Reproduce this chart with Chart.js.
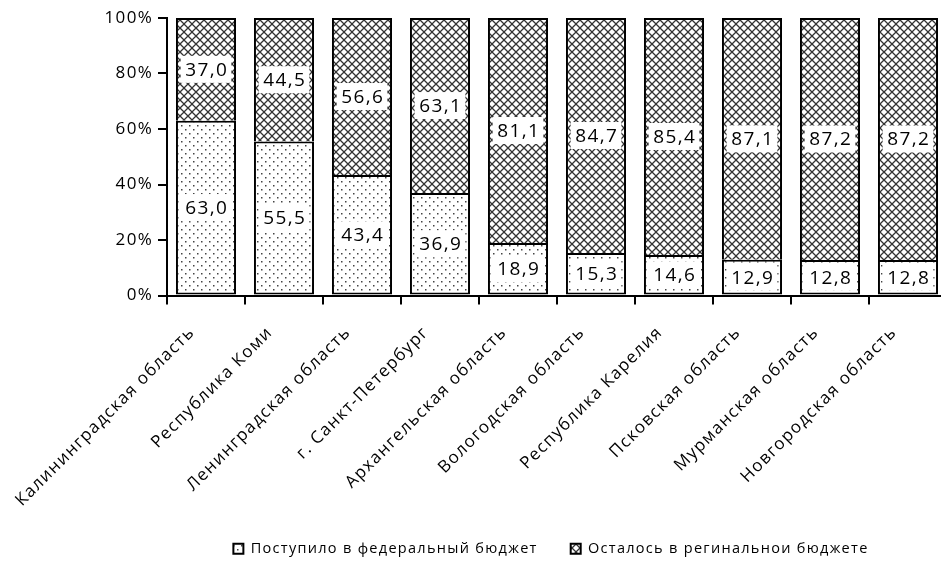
<!DOCTYPE html>
<html><head><meta charset="utf-8">
<script src="https://cdn.jsdelivr.net/npm/chart.js@4.4.1/dist/chart.umd.min.js"></script>
<style>html,body{margin:0;padding:0;background:#fff;overflow:hidden;width:941px;height:574px}#wrap{position:absolute;left:0;top:0;width:1102px;height:574px}</style>
</head><body><div id="wrap"><canvas id="c" width="1102" height="574"></canvas></div>
<script>
const categories = ["Калининградская область","Республика Коми","Ленинградская область","г. Санкт-Петербург","Архангельская область","Вологодская область","Республика Карелия","Псковская область","Мурманская область","Новгородская область"];
const federalValues = [63.0,55.5,43.4,36.9,18.9,15.3,14.6,12.9,12.8,12.8];
const regionalValues = [37.0,44.5,56.6,63.1,81.1,84.7,85.4,87.1,87.2,87.2];
const seriesNames = ["Поступило в федеральный бюджет","Осталось в регинальнои бюджете"];
const yTicks = [0,20,40,60,80,100];

function dotPattern(){
  const c=document.createElement('canvas');c.width=8;c.height=8;const x=c.getContext('2d');
  x.fillStyle='#fff';x.fillRect(0,0,8,8);x.fillStyle='#444';
  x.fillRect(1,1,1.5,1.5);x.fillRect(5,5,1.5,1.5);
  return x.createPattern(c,'repeat');
}
function diamondPattern(){
  const c=document.createElement('canvas');c.width=8;c.height=8;const x=c.getContext('2d');
  x.fillStyle='#fff';x.fillRect(0,0,8,8);x.strokeStyle='#333';x.lineWidth=1.3;
  x.beginPath();x.moveTo(-1,-1);x.lineTo(9,9);x.moveTo(9,-1);x.lineTo(-1,9);x.stroke();
  return x.createPattern(c,'repeat');
}
const FONT='"Open Sans", sans-serif';
const spacingPlugin={id:'spacing',
  beforeUpdate(chart){chart.ctx.letterSpacing='1.3px';},
  beforeDraw(chart){chart.ctx.letterSpacing='1.3px';}};
const labelPlugin={id:'vlabels',afterDatasetsDraw(chart){
  const ctx=chart.ctx;ctx.save();ctx.font='19px '+FONT;ctx.textAlign='center';ctx.textBaseline='middle';
  chart.data.datasets.forEach((ds,di)=>{const meta=chart.getDatasetMeta(di);
    meta.data.forEach((el,i)=>{const t=ds.data[i].toFixed(1).replace('.',',');
      const cy=(el.y+el.base)/2, cx=el.x; const w=ctx.measureText(t).width+8, h=27;
      ctx.fillStyle='#fff';ctx.fillRect(cx-w/2,cy-h/2,w,h);ctx.fillStyle='#000';ctx.fillText(t,cx+0.7,cy+1);});});
  ctx.restore();}};
new Chart(document.getElementById('c'),{type:'bar',
 data:{labels:categories,datasets:[
  {label:seriesNames[0],data:federalValues,backgroundColor:dotPattern(),borderColor:'#000',borderWidth:2,borderSkipped:false},
  {label:seriesNames[1],data:regionalValues,backgroundColor:diamondPattern(),borderColor:'#000',borderWidth:2,borderSkipped:'start'}]},
 options:{responsive:false,animation:false,devicePixelRatio:1,
  layout:{padding:{top:18,left:0,right:0,bottom:8}},
  datasets:{bar:{barPercentage:0.77,categoryPercentage:1}},
  plugins:{tooltip:{enabled:false},
   legend:{position:'bottom',labels:{color:'#000',font:{family:FONT,size:14.5},boxWidth:10,boxHeight:10,padding:33}}},
  scales:{
   x:{stacked:true,offset:true,grid:{display:true,drawOnChartArea:false,offset:true,color:'#000',lineWidth:2,tickLength:9},
      border:{display:true,color:'#000',width:2},
      ticks:{color:'#000',font:{family:FONT,size:17},maxRotation:45,minRotation:45,autoSkip:false,padding:18,labelOffset:-14},
      afterFit(s){s.height=213;}},
   y:{stacked:true,min:0,max:100,afterBuildTicks(s){s.ticks=yTicks.map(v=>({value:v}));},
      grid:{display:true,drawOnChartArea:false,color:'#000',lineWidth:2,tickLength:9},
      border:{display:true,color:'#000',width:2},
      ticks:{color:'#000',font:{family:FONT,size:17},padding:5,callback:v=>v+'%'},
      afterFit(s){s.width=167;}},
   y2:{position:'right',display:true,grid:{display:false},border:{display:false},ticks:{display:false},afterFit(s){s.width=155;}}
  }}, plugins:[spacingPlugin,labelPlugin]});
</script></body></html>
